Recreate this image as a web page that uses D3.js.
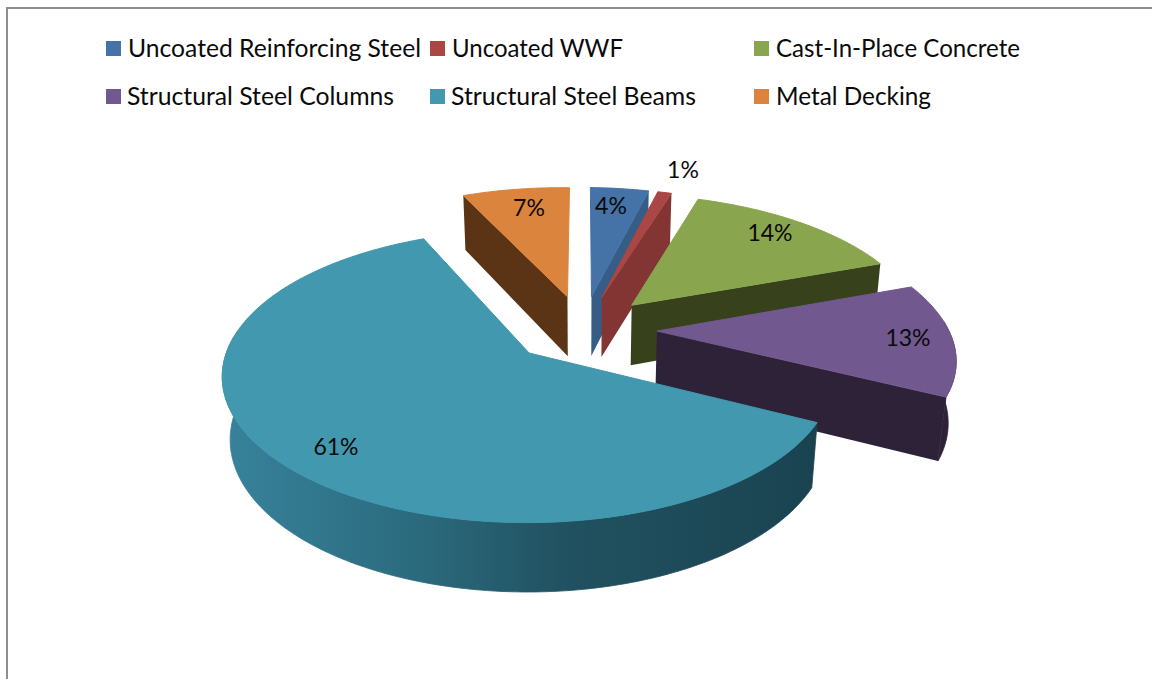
<!DOCTYPE html>
<html lang="en">
  <head>
    <meta charset="UTF-8" />
    <title>Material share</title>
    <script src="https://d3js.org/d3.v7.min.js"></script>
    <style>
      body {
        margin: 0;
        padding: 0;
        background: #fff;
        overflow: hidden;
      }
      text {
        font-family: Lato, "Open Sans", sans-serif;
        fill: #0a0a0a;
      }
    </style>
  </head>
  <body>
    <svg id="chart" width="1152" height="679"></svg>

    <script>
      var categories = [
        "Uncoated Reinforcing Steel",
        "Uncoated WWF",
        "Cast-In-Place Concrete",
        "Structural Steel Columns",
        "Structural Steel Beams",
        "Metal Decking",
      ];
      var values = [3.8, 0.9, 14.3, 13.1, 60.9, 7.0];

      var topColors = ["#4572a7", "#aa4643", "#89a54e", "#71588f", "#4198af", "#db843d"];
      var wallColors = ["#355d86", "#833533", "#37421c", "#2d2237", "#1f5060", "#5a3414"];

      // draw back slices first, the big one goes last
      var drawOrder = [5, 0, 1, 2, 3, 4];

      // camera numbers, fitted by eye to the corners in the picture
      var cx = 583, cy = 329;
      var dist = 6.48, fx = 1900, fy = 875, fz = 404, fall = 0.137;
      var explode = 0.252;
      var shear = 0.012;

      function project(x, y, z) {
        var w = dist - y + fall * z;
        var sx = cx + (fx * x) / w;
        return [sx, cy + (fy * y + fz * z) / w + shear * (sx - cx)];
      }

      var svg = d3.select("#chart");
      var line = d3.line();

      // frame, only top and left show
      svg.append("path")
        .attr("d", "M7,679V8H1152")
        .attr("fill", "none")
        .attr("stroke", "#8e8e8e")
        .attr("stroke-width", 2);

      var pie = d3.pie().sort(null)(values);

      // the round wall of the beams slice goes lighter to the left
      var shadeX = [225, 420, 560, 815];
      var shadeColors = ["#37829b", "#2b6a7d", "#215261", "#1a4350"];
      var wallShade = d3.scaleLinear().domain([225, 815]).range([0, 1]);

      var grad = svg.append("defs").append("linearGradient")
        .attr("id", "beam-wall")
        .attr("gradientUnits", "userSpaceOnUse")
        .attr("x1", 225)
        .attr("x2", 815)
        .attr("y1", 0)
        .attr("y2", 0);
      shadeX.forEach(function (x, i) {
        grad.append("stop")
          .attr("offset", wallShade(x))
          .attr("stop-color", shadeColors[i]);
      });

      function pointAt(d, angle, z) {
        var mid = (d.startAngle + d.endAngle) / 2;
        var ox = explode * Math.sin(mid), oy = -explode * Math.cos(mid);
        return project(ox + Math.sin(angle), oy - Math.cos(angle), z);
      }

      drawOrder.forEach(function (i) {
        var d = pie[i];
        var g = svg.append("g");
        var angles = d3.range(d.startAngle, d.endAngle, 0.02).concat([d.endAngle]);
        var mid = (d.startAngle + d.endAngle) / 2;
        var apexTop = project(explode * Math.sin(mid), -explode * Math.cos(mid), 0);
        var apexLow = project(explode * Math.sin(mid), -explode * Math.cos(mid), 1);

        var rim = angles.map(function (a) {
          return pointAt(d, a, 0);
        });

        // outer wall, front part of the circle only
        var front = angles.filter(function (a) {
          return Math.cos(a) < 0.1;
        });
        if (front.length > 1) {
          var wallFill = i === 4 ? "url(#beam-wall)" : wallColors[i];
          var upper = front.map(function (a) {
            return pointAt(d, a, 0);
          });
          var lower = front.map(function (a) {
            return pointAt(d, a, 1);
          });
          g.append("path")
            .attr("d", line(upper.concat(lower.reverse())) + "Z")
            .attr("fill", wallFill)
            .attr("stroke", wallFill)
            .attr("stroke-width", 0.8);
        }

        // radial walls, only the ones turned to the viewer
        [d.startAngle, d.endAngle].forEach(function (a, k) {
          var quad = [apexTop, pointAt(d, a, 0), pointAt(d, a, 1), apexLow];
          var area = d3.polygonArea(quad) * (k === 0 ? 1 : -1);
          if (area > 300) {
            g.append("path")
              .attr("d", line(quad) + "Z")
              .attr("fill", wallColors[i]);
          }
        });

        // top face, stroked so the wall edge does not peek out behind it
        g.append("path")
          .attr("d", line([apexTop].concat(rim)) + "Z")
          .attr("fill", topColors[i])
          .attr("stroke", topColors[i])
          .attr("stroke-width", 1);
      });

      // percent labels
      var labelX = [611, 683, 770, 908, 336, 529];
      var labelY = [214, 178, 241, 346, 455, 216];
      values.forEach(function (v, i) {
        svg.append("text")
          .attr("x", labelX[i])
          .attr("y", labelY[i])
          .attr("text-anchor", "middle")
          .attr("font-size", 23)
          .text(d3.format(".0f")(v) + "%");
      });

      // legend
      var swatchX = [106, 430, 754, 106, 430, 754];
      var swatchY = [41, 41, 41, 89, 89, 89];
      var legendTextX = [128, 452, 776, 127, 451, 776];
      var legendTextW = [293, 171, 244, 267, 245, 155];
      categories.forEach(function (name, i) {
        svg.append("rect")
          .attr("x", swatchX[i])
          .attr("y", swatchY[i])
          .attr("width", 15)
          .attr("height", 15)
          .attr("fill", topColors[i]);
        svg.append("text")
          .attr("x", legendTextX[i])
          .attr("y", swatchY[i] + 16)
          .attr("font-size", 24.5)
          .attr("textLength", legendTextW[i])
          .attr("lengthAdjust", "spacingAndGlyphs")
          .text(name);
      });
    </script>
  </body>
</html>
